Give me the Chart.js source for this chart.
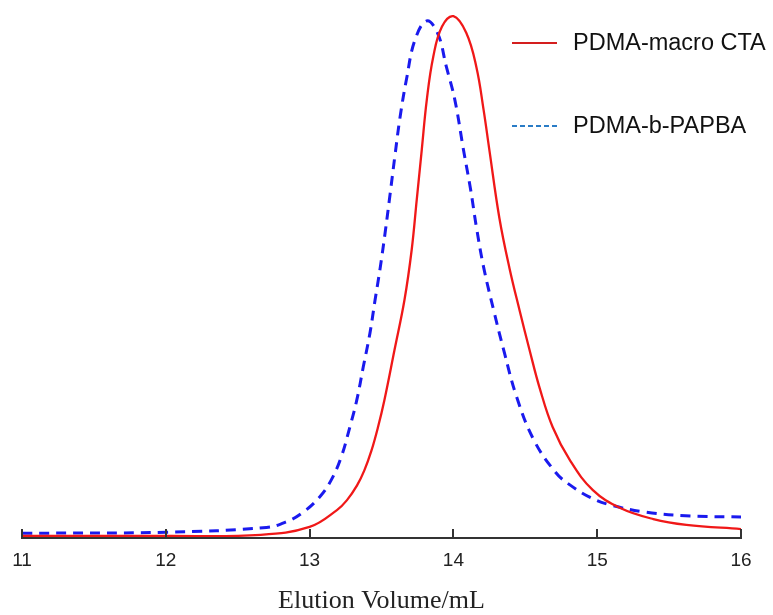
<!DOCTYPE html>
<html>
<head>
<meta charset="utf-8">
<title>Elution Volume</title>
<script src="https://cdn.jsdelivr.net/npm/chart.js@4/dist/chart.umd.min.js"></script>
<style>
    html, body { margin: 0; padding: 0; background: #ffffff; }
    #wrap { width: 773px; height: 615px; }
</style>
</head>
<body>
<div id="wrap"><canvas id="gpcChart" width="773" height="615"></canvas></div>
<script>
// Series values (x = elution volume / mL, y = relative signal)
var seriesNames = ['PDMA-macro CTA', 'PDMA-b-PAPBA'];
var xTicks = [11, 12, 13, 14, 15, 16];

var macroX = [11.00, 12.00, 12.66, 13.00, 13.19, 13.26, 13.33, 13.38, 13.43, 13.475, 13.52, 13.59, 13.66, 13.71, 13.745, 13.78, 13.815, 13.86, 13.92, 14.00, 14.09, 14.16, 14.21, 14.25, 14.32, 14.39, 14.46, 14.53, 14.60, 14.69, 14.81, 14.97, 15.16, 15.39, 15.62, 16.00];
var macroY = [0.4, 0.4, 0.6, 2.1, 5.3, 7.2, 10.0, 12.8, 16.6, 21.0, 26.2, 35.7, 45.3, 54.8, 64.3, 73.8, 83.3, 91.5, 97.2, 99.2, 96.0, 89.5, 81.4, 73.8, 60.8, 51.3, 43.3, 35.7, 28.5, 21.1, 14.8, 9.1, 5.7, 3.6, 2.5, 1.7];

var blockX = [11.00, 12.00, 12.70, 12.84, 12.95, 13.07, 13.15, 13.22, 13.28, 13.328, 13.373, 13.42, 13.455, 13.49, 13.524, 13.559, 13.594, 13.629, 13.675, 13.733, 13.814, 13.89, 13.95, 14.01, 14.07, 14.12, 14.16, 14.21, 14.28, 14.35, 14.44, 14.56, 14.71, 14.81, 14.96, 15.09, 15.34, 15.65, 16.00];
var blockY = [0.9, 1.1, 2.0, 3.1, 4.8, 7.8, 11.0, 15.4, 21.1, 26.2, 32.5, 39.0, 45.2, 51.2, 57.8, 65.2, 72.8, 80.0, 87.4, 94.7, 98.3, 96.0, 89.7, 83.3, 73.8, 66.2, 59.1, 51.5, 43.3, 35.7, 26.8, 18.6, 12.5, 10.1, 7.6, 6.3, 4.9, 4.2, 4.0];

function toPoints(xs, ys) {
    return xs.map(function (x, i) { return { x: x, y: ys[i] }; });
}

(function () {
    'use strict';

    // Bottom axis line with small inward tick marks
    var axisPlugin = {
        id: 'axisLine',
        afterDatasetsDraw: function (chart) {
            var ctx = chart.ctx;
            var area = chart.chartArea;
            var xScale = chart.scales.x;
            ctx.save();
            ctx.strokeStyle = '#333333';
            ctx.lineWidth = 2;
            ctx.beginPath();
            ctx.moveTo(area.left - 1, area.bottom);
            ctx.lineTo(area.right + 1, area.bottom);
            xTicks.forEach(function (t) {
                var px = Math.round(xScale.getPixelForValue(t));
                ctx.moveTo(px, area.bottom);
                ctx.lineTo(px, area.bottom - 9);
            });
            ctx.stroke();
            ctx.restore();
        }
    };

    // Legend in the top right corner
    var legendPlugin = {
        id: 'cornerLegend',
        afterDraw: function (chart) {
            var ctx = chart.ctx;
            var items = [
                { text: seriesNames[0], color: '#d41e1e', dash: [], y: 43 },
                { text: seriesNames[1], color: '#2a7cc6', dash: [5, 3], y: 126 }
            ];
            ctx.save();
            items.forEach(function (item) {
                ctx.strokeStyle = item.color;
                ctx.lineWidth = 2.2;
                ctx.setLineDash(item.dash);
                ctx.beginPath();
                ctx.moveTo(512, item.y);
                ctx.lineTo(557, item.y);
                ctx.stroke();
                ctx.setLineDash([]);
                ctx.fillStyle = '#111111';
                ctx.font = '23.5px "Liberation Sans", Arial, sans-serif';
                ctx.textBaseline = 'middle';
                ctx.textAlign = 'left';
                ctx.fillText(item.text, 573, item.y + 1);
            });
            ctx.restore();
        }
    };

    var ctx = document.getElementById('gpcChart');
    new Chart(ctx, {
        type: 'line',
        data: {
            datasets: [{
                label: seriesNames[0],
                data: toPoints(macroX, macroY),
                borderColor: '#f01818',
                borderWidth: 2.3,
                pointRadius: 0,
                tension: 0.4,
                fill: false
            }, {
                label: seriesNames[1],
                data: toPoints(blockX, blockY),
                borderColor: '#1a1aee',
                borderWidth: 3,
                borderDash: [10, 7],
                pointRadius: 0,
                tension: 0.4,
                fill: false
            }]
        },
        options: {
            responsive: false,
            animation: false,
            layout: {
                padding: { left: 22, right: 32, top: 12, bottom: 0 }
            },
            plugins: {
                legend: { display: false },
                tooltip: { enabled: false }
            },
            scales: {
                x: {
                    type: 'linear',
                    min: 11,
                    max: 16,
                    afterBuildTicks: function (scale) {
                        scale.ticks = xTicks.map(function (v) { return { value: v }; });
                    },
                    afterFit: function (scale) {
                        scale.height = 77;
                    },
                    grid: { display: false, drawTicks: false },
                    border: { display: false },
                    ticks: {
                        padding: 11,
                        color: '#222222',
                        maxRotation: 0,
                        font: { size: 19, family: '"Liberation Sans", Arial, sans-serif' }
                    },
                    title: {
                        display: true,
                        text: 'Elution Volume/mL',
                        color: '#222222',
                        padding: { top: 0, bottom: -2 },
                        font: { size: 26, family: '"Liberation Serif", "Times New Roman", serif' }
                    }
                },
                y: {
                    display: false,
                    min: 0,
                    max: 100
                }
            }
        },
        plugins: [axisPlugin, legendPlugin]
    });
})();
</script>
</body>
</html>
